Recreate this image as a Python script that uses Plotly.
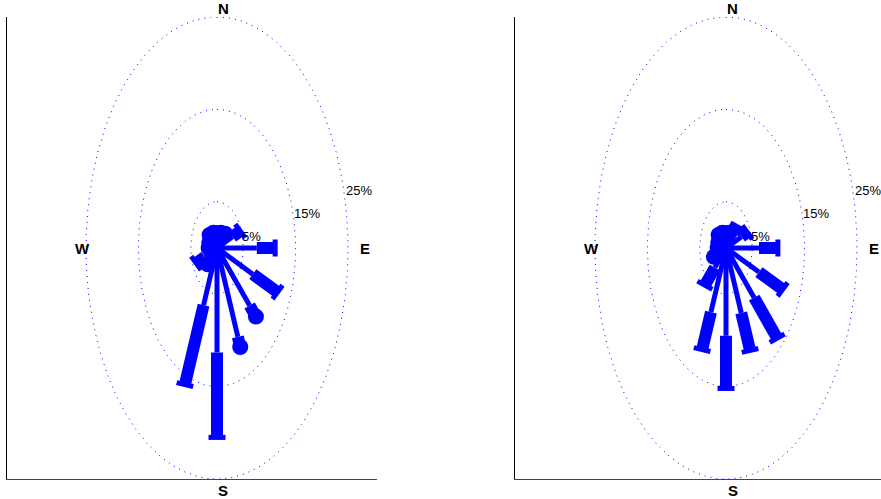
import numpy as np
import plotly.graph_objects as go

# Compass sectors (degrees clockwise from north)
directions = ["N", "NNE", "NE", "ENE", "E", "ESE", "SE", "SSE",
              "S", "SSW", "SW", "WSW", "W", "WNW", "NW", "NNW"]
bearings = [0.0, 22.5, 45.0, 67.5, 90.0, 112.5, 135.0, 157.5,
            180.0, 202.5, 225.0, 247.5, 270.0, 292.5, 315.0, 337.5]

# Left rose: thin stem length, thick bar end (percent), end marker style
left_stem = [0.6, 0.8, 1.2, 3.2, 7.6, 7.4, 8.8, 10.4, 11.3, 6.7, 1.5, 2.5, 0.8, 0.8, 1.0, 0.8]
left_end = [1.6, 1.8, 2.2, 4.8, 11.1, 12.5, 10.5, 11.6, 20.5, 16.0, 2.5, 4.3, 1.6, 1.6, 2.0, 1.8]
left_cap = ["o", "o", "o", "bar", "bar", "bar", "o", "o",
            "bar", "bar", "o", "bar", "o", "o", "o", "o"]

# Right rose
right_stem = [0.6, 0.8, 2.2, 3.2, 6.3, 6.8, 7.6, 7.6, 9.5, 7.5, 3.0, 1.5, 0.8, 0.8, 1.0, 0.8]
right_end = [1.6, 1.8, 3.2, 4.4, 9.9, 11.7, 13.8, 12.0, 15.2, 11.9, 5.7, 2.5, 1.6, 1.6, 2.0, 1.8]
right_cap = ["o", "o", "bar", "bar", "bar", "bar", "bar", "bar",
             "bar", "bar", "bar", "o", "o", "o", "o", "o"]

rings = [5, 15, 25]
ring_labels = ["5%", "15%", "25%"]

W, H = 881, 499
BLUE = "#0000ff"
FONT = "Liberation Sans, Arial"

# pixel layout of the two axes boxes
PX_PER_X = 5.24   # px per percent horizontally
PX_PER_Y = 9.24   # px per percent vertically
panels = [
    dict(left=7, right=377, cx=217, stem=left_stem, end=left_end, cap=left_cap, ax=""),
    dict(left=515, right=881, cx=726, stem=right_stem, end=right_end, cap=right_cap, ax="2"),
]
top_px, bottom_px, cy = 17, 479, 248

fig = go.Figure()
annotations = []
layout_axes = {}

for p in panels:
    xr = [-(p["cx"] - p["left"]) / PX_PER_X, (p["right"] - p["cx"]) / PX_PER_X]
    yr = [-(bottom_px - cy) / PX_PER_Y, (cy - top_px) / PX_PER_Y]
    xa = "x" + p["ax"]
    ya = "y" + p["ax"]
    layout_axes["xaxis" + p["ax"]] = dict(
        domain=[p["left"] / W, min(p["right"] / W, 1.0)], range=xr,
        showline=True, linecolor="#444", linewidth=1, mirror=False,
        showgrid=False, zeroline=False, showticklabels=False, ticks="",
        anchor=ya, fixedrange=True)
    layout_axes["yaxis" + p["ax"]] = dict(
        domain=[(H - bottom_px) / H, (H - top_px) / H], range=yr,
        showline=True, linecolor="black", linewidth=1, mirror=False,
        showgrid=False, zeroline=False, showticklabels=False, ticks="",
        anchor=xa, fixedrange=True)

    # dotted range rings
    t = np.linspace(0, 2 * np.pi, 400)
    for r in rings:
        fig.add_trace(go.Scatter(
            x=r * np.sin(t), y=r * np.cos(t), mode="lines",
            line=dict(color=BLUE, width=1, dash="1px,5px"),
            xaxis=xa, yaxis=ya, hoverinfo="skip", showlegend=False))
    for r, lab in zip(rings, ring_labels):
        annotations.append(dict(
            x=r * 0.99 - 0.55, y=r * 0.25, xref=xa, yref=ya, text=lab,
            showarrow=False, xanchor="left", yanchor="middle",
            font=dict(family=FONT, size=13, color="black")))

    # spokes
    for b, r0, r1, cap in zip(bearings, p["stem"], p["end"], p["cap"]):
        th = np.deg2rad(b)
        sx, sy = np.sin(th), np.cos(th)
        fig.add_trace(go.Scatter(
            x=[0, r0 * sx], y=[0, r0 * sy], mode="lines",
            line=dict(color=BLUE, width=5), xaxis=xa, yaxis=ya,
            hoverinfo="skip", showlegend=False))
        fig.add_trace(go.Scatter(
            x=[r0 * sx, r1 * sx], y=[r0 * sy, r1 * sy], mode="lines",
            line=dict(color=BLUE, width=12), xaxis=xa, yaxis=ya,
            hoverinfo="skip", showlegend=False))
        ex, ey = r1 * sx, r1 * sy
        if cap == "bar":
            # short bar across the spoke end, perpendicular on screen
            ux, uy = sx * PX_PER_X, sy * PX_PER_Y
            n = np.hypot(ux, uy)
            ux, uy = ux / n, uy / n
            vx, vy = -uy, ux
            h = 8.5
            fig.add_trace(go.Scatter(
                x=[ex - vx * h / PX_PER_X, ex + vx * h / PX_PER_X],
                y=[ey - vy * h / PX_PER_Y, ey + vy * h / PX_PER_Y],
                mode="lines", line=dict(color=BLUE, width=5),
                xaxis=xa, yaxis=ya, hoverinfo="skip", showlegend=False))
        else:
            fig.add_trace(go.Scatter(
                x=[ex], y=[ey], mode="markers",
                marker=dict(color=BLUE, size=16, line=dict(width=0)),
                xaxis=xa, yaxis=ya, hoverinfo="skip", showlegend=False))

    # compass letters
    lx = (p["cx"] + 6.5) / W
    annotations.append(dict(x=lx, y=1 - 8 / H, xref="paper", yref="paper",
                            text="<b>N</b>", showarrow=False,
                            xanchor="center", yanchor="middle",
                            font=dict(family=FONT, size=15, color="black")))
    annotations.append(dict(x=lx, y=1 - 490 / H, xref="paper", yref="paper",
                            text="<b>S</b>", showarrow=False,
                            xanchor="center", yanchor="middle",
                            font=dict(family=FONT, size=15, color="black")))
    off = 1.3
    for lab, x in [("W", -27.0 + off), ("E", 27.0 + off)]:
        annotations.append(dict(
            x=x, y=0, xref=xa, yref=ya, text="<b>%s</b>" % lab,
            showarrow=False, xanchor="center", yanchor="middle",
            font=dict(family=FONT, size=15, color="black")))

fig.update_layout(
    width=W, height=H, margin=dict(l=0, r=0, t=0, b=0),
    paper_bgcolor="white", plot_bgcolor="white",
    showlegend=False, annotations=annotations, **layout_axes)

fig.write_html("out.html")
